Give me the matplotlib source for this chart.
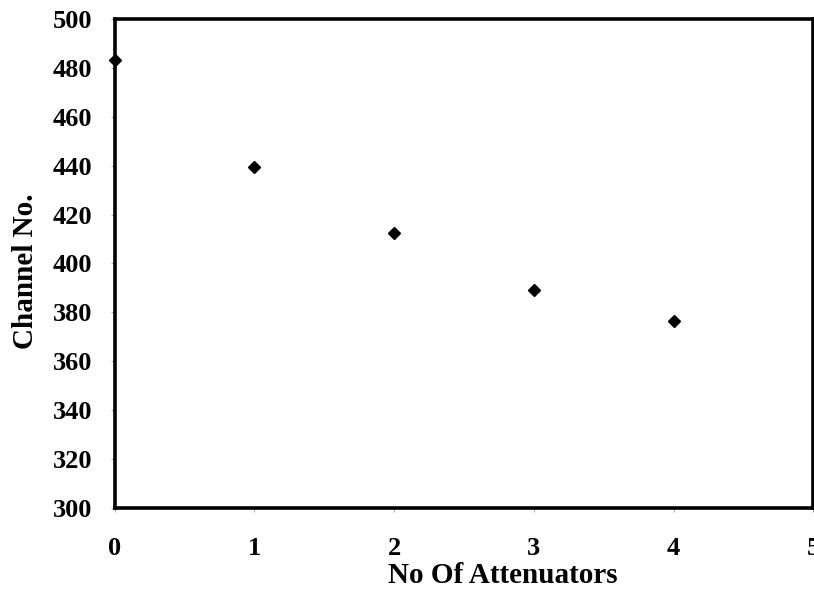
import matplotlib
matplotlib.use("Agg")
import matplotlib.pyplot as plt

# attenuator count vs peak channel
attenuators = [0, 1, 2, 3, 4]
channel = [483, 439.5, 412.5, 389, 376.5]
xticks = [0, 1, 2, 3, 4, 5]
yticks = [300, 320, 340, 360, 380, 400, 420, 440, 460, 480, 500]

plt.rcParams["font.family"] = ["Liberation Serif", "DejaVu Serif"]
plt.rcParams["font.weight"] = "bold"

fig = plt.figure(figsize=(8.14, 5.90), dpi=100)
ax = fig.add_axes([0.141, 0.139, 0.858, 0.829])

ax.plot(attenuators, channel, "D", color="black", markersize=6.6, clip_on=False, zorder=3)

ax.set_xlim(0, 5)
ax.set_ylim(300, 500)
ax.set_xticks(xticks)
ax.set_yticks(yticks)
ax.tick_params(axis="x", length=3, width=0.6, color="0.6", pad=18, labelsize=19)
ax.tick_params(axis="y", length=3, width=0.6, color="0.6", pad=13, labelsize=19)
for lab in ax.get_xticklabels() + ax.get_yticklabels():
    lab.set_fontweight("bold")

for s in ax.spines.values():
    s.set_linewidth(2.6)
    s.set_color("black")

ax.set_xlabel("No Of Attenuators", fontsize=21, fontweight="bold")
ax.set_ylabel("Channel No.", fontsize=21, fontweight="bold")
# label positions are offset from centre in the original
ax.xaxis.set_label_coords(0.556, -0.111)
ax.yaxis.set_label_coords(-0.109, 0.485)

fig.savefig("out.png", dpi=100)
